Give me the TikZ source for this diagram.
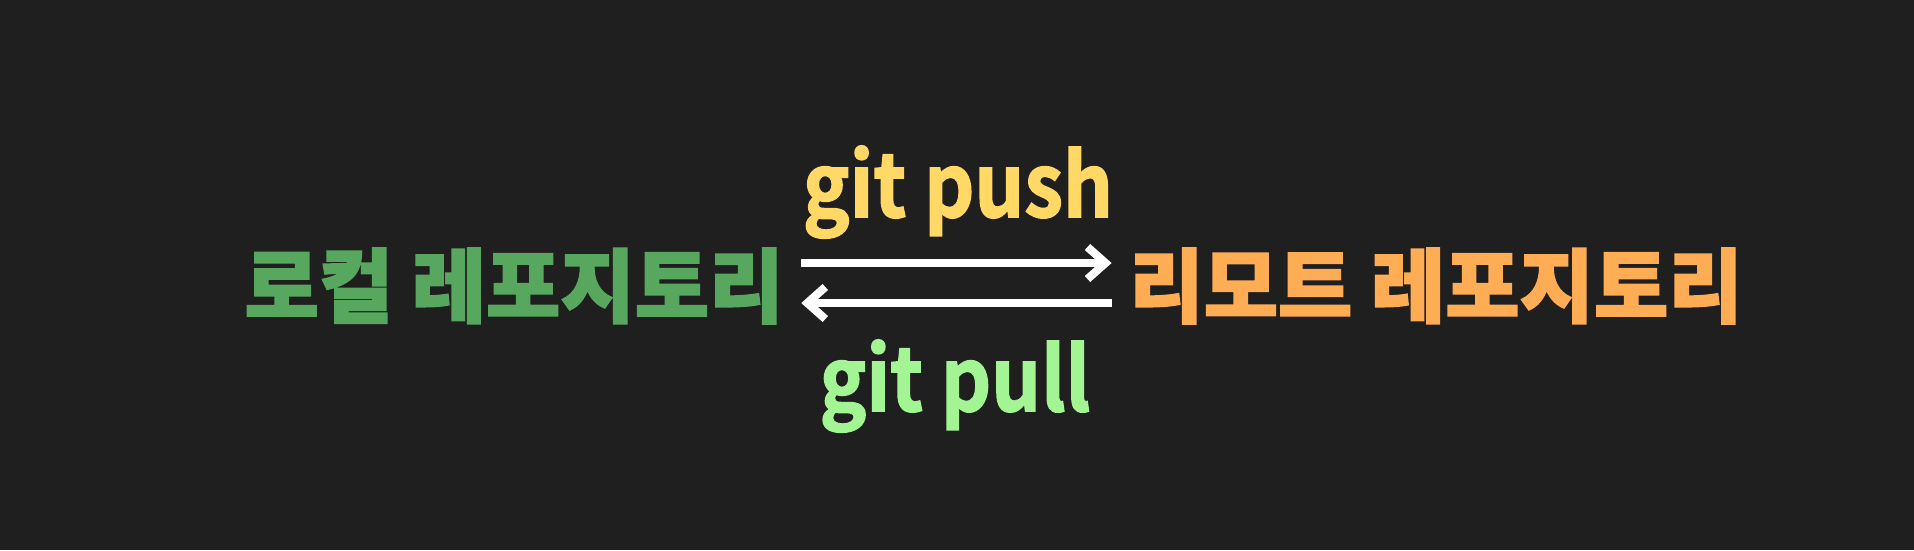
\documentclass[tikz,border=0pt]{standalone}
\usepackage{fontspec}
\usetikzlibrary{arrows.meta}
\newfontfamily\repofont[FakeBold=2]{Noto Sans CJK KR Black}
\newfontfamily\cmdfont[FakeBold=1.8]{Noto Sans CJK KR Bold}
\definecolor{bg}{HTML}{1F1F1F}
\definecolor{localgreen}{HTML}{57A85E}
\definecolor{remoteorange}{HTML}{FFAD55}
\definecolor{pushyellow}{HTML}{FFD866}
\definecolor{pullgreen}{HTML}{A2F592}
\tikzset{
  repo/.style={font=\repofont\fontsize{23}{23}\selectfont, inner sep=0.17cm},
  cmd/.style={font=\cmdfont\fontsize{25}{25}\selectfont, inner sep=0pt, anchor=base, xscale=0.89, transform shape},
  syncarrow/.style={white, line width=2.3pt, -{Straight Barb[length=1.8mm,width=3.2mm]}}
}
\begin{document}
\begin{tikzpicture}
            \fill[bg] (0,0) rectangle (19.14,5.5);
            \useasboundingbox (0,0) rectangle (19.14,5.5);
            
            \node[repo, text=localgreen] (local) at (5.14,2.64) {로컬 레포지토리};
            \node[repo, text=remoteorange] (remote) at (14.36,2.64) {리모트 레포지토리};
            
            \node[cmd, text=pushyellow] (push) at (9.58,3.33) {git push}; % above arrows
            \node[cmd, text=pullgreen] (pull) at (9.55,1.39) {git pull}; % below arrows
            
            \draw[syncarrow] ([yshift=0.23cm]local.east) -- ([yshift=0.23cm]remote.west);
            \draw[syncarrow] ([yshift=-0.17cm]remote.west) -- ([yshift=-0.17cm]local.east);
        \end{tikzpicture}
\end{document}
